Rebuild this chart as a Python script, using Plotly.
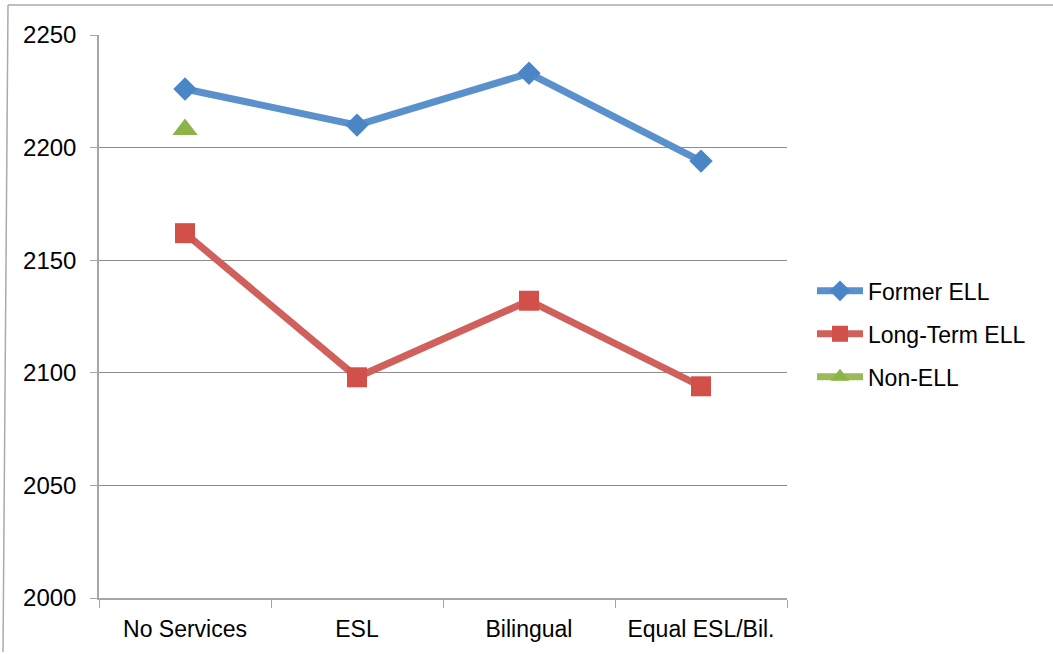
import plotly.graph_objects as go

categories = ["No Services", "ESL", "Bilingual", "Equal ESL/Bil."]
former_ell = [2226, 2210, 2233, 2194]
long_term_ell = [2162, 2098, 2132, 2094]
non_ell = [2208, None, None, None]
y_ticks = [2000, 2050, 2100, 2150, 2200, 2250]

W, H = 1053, 654
L, R, T, B = 99, 266, 35, 54
pw, ph = W - L - R, H - T - B

def px(x):
    return (x - L) / pw

def py(y):
    return (H - B - y) / ph

fig = go.Figure()
fig.add_trace(go.Scatter(
    x=categories, y=former_ell, name="Former ELL", mode="lines+markers",
    line=dict(color="#5A90CC", width=7),
    marker=dict(symbol="diamond", size=18, color="#4A85C6"),
    legendgroup="a"))
fig.add_trace(go.Scatter(
    x=categories, y=long_term_ell, name="Long-Term ELL", mode="lines+markers",
    line=dict(color="#D0605B", width=7),
    marker=dict(symbol="square", size=20, color="#D2504A"),
    legendgroup="b"))
fig.add_trace(go.Scatter(
    x=categories, y=non_ell, name="Non-ELL", mode="lines+markers",
    line=dict(color="#9BBB59", width=7),
    marker=dict(symbol="triangle-up", size=22, color="#8DB446"),
    legendgroup="c"))

fig.update_layout(
    width=W, height=H,
    margin=dict(l=L, r=R, t=T, b=B),
    paper_bgcolor="white", plot_bgcolor="white",
    font=dict(family="Liberation Sans, Arial, sans-serif", size=24, color="black"),
    showlegend=True,
    legend=dict(x=px(812), y=py(290) + 0.035, xanchor="left", yanchor="top",
                font=dict(size=23), tracegroupgap=10, itemwidth=46,
                bgcolor="rgba(0,0,0,0)"),
    xaxis=dict(type="category", showgrid=False, showline=True, linecolor="#A6A6A6",
               linewidth=1.5, ticks="outside", tickson="boundaries", ticklen=8,
               tickcolor="#A6A6A6", ticklabelstandoff=10, range=[-0.5, 3.5],
               tickfont=dict(size=23)),
    yaxis=dict(range=[2000, 2250], tickvals=y_ticks, showgrid=True,
               gridcolor="#8C8C8C", gridwidth=1, zeroline=False, showline=True,
               linecolor="#A6A6A6", linewidth=1.5, ticks="outside", ticklen=7,
               tickcolor="#A6A6A6", ticklabelstandoff=9,
               tickfont=dict(size=24)),
    shapes=[
        dict(type="line", xref="paper", yref="paper", x0=px(8), x1=px(1053),
             y0=py(5), y1=py(5), line=dict(color="#AAAAAA", width=1.5)),
        dict(type="line", xref="paper", yref="paper", x0=px(8), x1=px(3),
             y0=py(5), y1=py(654), line=dict(color="#AAAAAA", width=1.5)),
    ],
)

fig.write_html("out.html")
